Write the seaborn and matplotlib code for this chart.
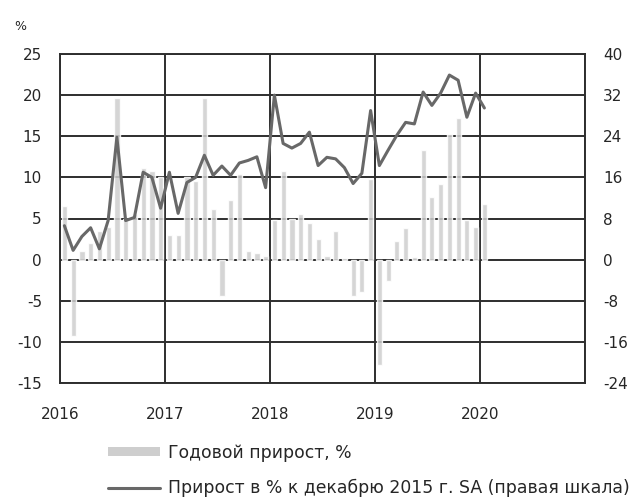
import numpy as np
import pandas as pd
import matplotlib
matplotlib.use("Agg")
import matplotlib.pyplot as plt
import seaborn as sns
from matplotlib.patches import Patch
from matplotlib.lines import Line2D

# ---- data (monthly, Jan 2016 .. Jan 2020) ----
months = pd.date_range("2016-01-01", "2020-01-01", freq="MS")
annual_growth = [
    6.5, -9.3, 1.0, 2.0, 3.5, 4.0, 19.6, 5.0, 5.5, 11.2, 10.8, 10.0,   # 2016
    3.0, 3.0, 10.0, 9.6, 19.6, 6.2, -4.4, 7.2, 10.4, 1.0, 0.8, 0.5,    # 2017
    4.8, 10.8, 5.0, 5.5, 4.4, 2.5, 0.5, 3.5, 0.2, -4.4, -3.9, 9.8,     # 2018
    -12.8, -2.6, 2.3, 3.8, 0.3, 13.3, 7.6, 9.2, 15.3, 17.2, 4.8, 4.0,  # 2019
    6.8,                                                              # 2020
]
cum_growth = [
    6.6, 1.8, 4.5, 6.2, 2.1, 7.6, 23.8, 7.6, 8.2, 17.0, 16.0, 10.0,
    17.0, 9.0, 15.0, 16.0, 20.3, 16.4, 18.2, 16.4, 18.8, 19.3, 20.0, 14.0,
    32.0, 22.6, 21.7, 22.6, 24.8, 18.3, 19.9, 19.6, 17.9, 14.8, 16.8, 29.0,
    18.3, 21.3, 24.2, 26.7, 26.4, 32.6, 30.0, 32.4, 35.9, 34.9, 27.7, 32.4,
    29.5,
]
year_labels = ["2016", "2017", "2018", "2019", "2020", ""]
left_ticks = [-15, -10, -5, 0, 5, 10, 15, 20, 25]
right_ticks = [-24, -16, -8, 0, 8, 16, 24, 32, 40]
bar_label = "Годовой прирост, %"
line_label = "Прирост в % к декабрю 2015 г. SA (правая шкала)"

BAR_C = "#cecece"
LINE_C = "#686868"
GRID_C = "#2e2e2e"
TXT_C = "#262626"

sns.set_theme(style="white")
plt.rcParams['font.family'] = ['DejaVu Sans']

df = pd.DataFrame({"x": np.arange(len(months)), "bar": annual_growth, "line": cum_growth})

fig = plt.figure(figsize=(6.34, 5.01), dpi=100)
ax = fig.add_axes([60 / 634, 1 - 383 / 501, 525 / 634, 329 / 501])

sns.barplot(data=df, x="x", y="bar", native_scale=True, width=0.6,
            color=BAR_C, saturation=1, ax=ax, zorder=3, alpha=0.85)

ax.set_xlim(-0.5, 59.5)
ax.set_ylim(-15, 25)
ax.set_yticks(left_ticks)
ax.set_yticklabels([str(t) for t in left_ticks])
year_pos = [-0.5, 11.5, 23.5, 35.5, 47.5, 59.5]
ax.set_xticks(year_pos)
ax.set_xticklabels(year_labels)
ax.grid(True, axis="both", color=GRID_C, lw=1.4, zorder=1)
ax.set_axisbelow(True)
ax.set_xlabel("")
ax.set_ylabel("")
ax.tick_params(axis="y", length=0, pad=13, labelsize=11, colors=TXT_C)
ax.tick_params(axis="x", length=0, pad=17, labelsize=11, colors=TXT_C)
for s in ax.spines.values():
    s.set_color(GRID_C)
    s.set_linewidth(1.4)

ax2 = ax.twinx()
sns.lineplot(data=df, x="x", y="line", ax=ax2, color=LINE_C, lw=2.2, zorder=5)
ax2.set_ylim(-24, 40)
ax2.set_yticks(right_ticks)
ax2.set_yticklabels([str(t) for t in right_ticks])
ax2.set_xlim(-0.5, 59.5)
ax2.set_ylabel("")
ax2.grid(False)
ax2.tick_params(axis="y", length=0, pad=13, labelsize=11, colors=TXT_C)
for s in ax2.spines.values():
    s.set_visible(False)

fig.text(20 / 634, 1 - 27 / 501, "%", ha="center", va="center", fontsize=9, color=TXT_C)

handles = [Patch(facecolor=BAR_C, edgecolor="none"),
           Line2D([0], [0], color=LINE_C, lw=2.2)]
fig.legend(handles, [bar_label, line_label], loc="upper left",
           bbox_to_anchor=(101 / 634, 1 - 437 / 501), frameon=False,
           handlelength=3.0, handleheight=0.45, fontsize=12.4,
           labelspacing=1.0, handletextpad=0.5, borderaxespad=0,
           labelcolor=TXT_C)

fig.savefig("out.png", dpi=100)
